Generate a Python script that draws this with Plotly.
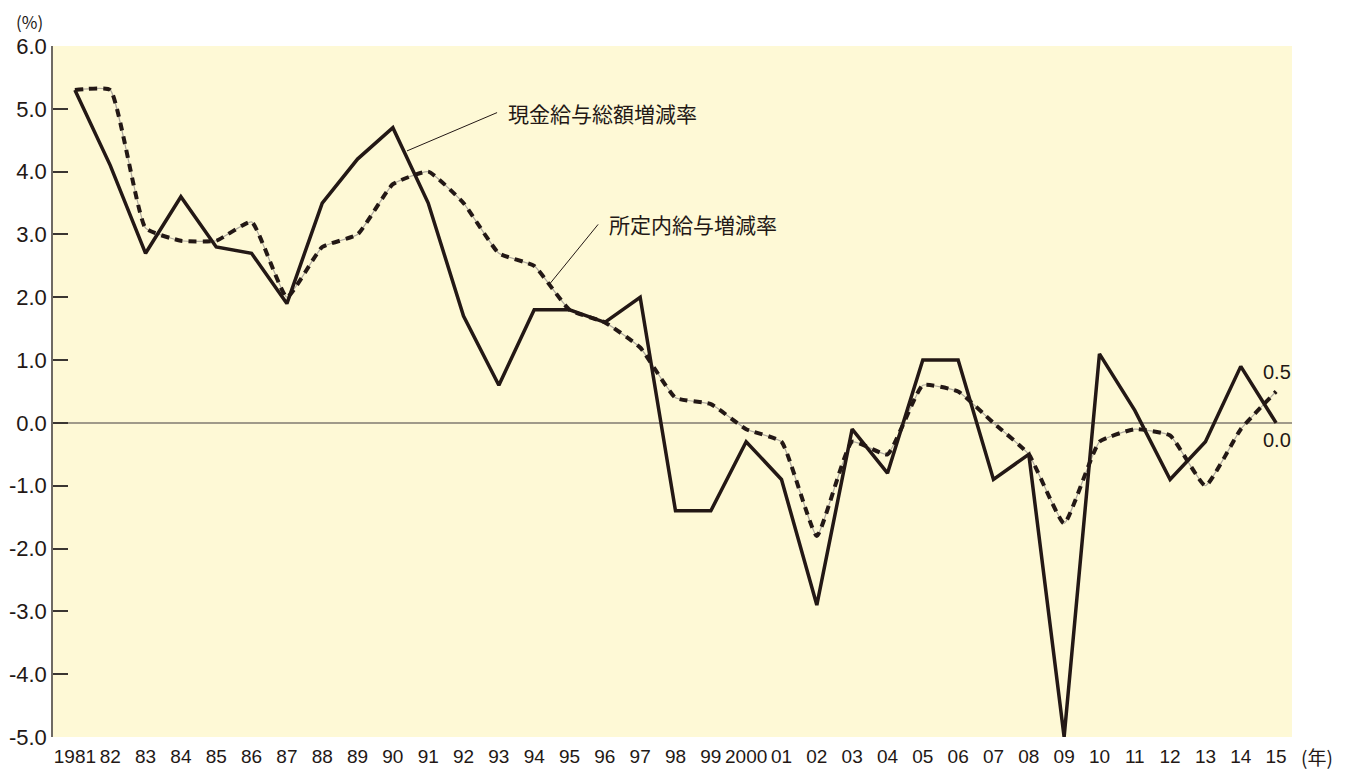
import plotly.graph_objects as go

years = list(range(1981, 2016))
tick_labels = ["1981", "82", "83", "84", "85", "86", "87", "88", "89", "90",
               "91", "92", "93", "94", "95", "96", "97", "98", "99", "2000",
               "01", "02", "03", "04", "05", "06", "07", "08", "09", "10",
               "11", "12", "13", "14", "15"]

total_cash = [5.3, 4.1, 2.7, 3.6, 2.8, 2.7, 1.9, 3.5, 4.2, 4.7,
              3.5, 1.7, 0.6, 1.8, 1.8, 1.6, 2.0, -1.4, -1.4, -0.3,
              -0.9, -2.9, -0.1, -0.8, 1.0, 1.0, -0.9, -0.5, -5.0, 1.1,
              0.2, -0.9, -0.3, 0.9, 0.0]

scheduled = [5.3, 5.3, 3.1, 2.9, 2.9, 3.2, 2.0, 2.8, 3.0, 3.8,
             4.0, 3.5, 2.7, 2.5, 1.8, 1.6, 1.2, 0.4, 0.3, -0.1,
             -0.3, -1.8, -0.3, -0.5, 0.6, 0.5, 0.0, -0.5, -1.6, -0.3,
             -0.1, -0.2, -1.0, -0.1, 0.5]

y_ticks = [6, 5, 4, 3, 2, 1, 0, -1, -2, -3, -4, -5]
y_tick_text = ["6.0", "5.0", "4.0", "3.0", "2.0", "1.0", "0.0",
               "-1.0", "-2.0", "-3.0", "-4.0", "-5.0"]

x_idx = list(range(len(years)))
INK = "#231815"

fig = go.Figure()

# dash-dot line: thin grey underlay + black dashes
fig.add_trace(go.Scatter(x=x_idx, y=scheduled, mode="lines",
                         line=dict(color="#b0ab9f", width=1.2, shape="spline", smoothing=0.4),
                         hoverinfo="skip", showlegend=False))
fig.add_trace(go.Scatter(x=x_idx, y=scheduled, mode="lines",
                         line=dict(color=INK, width=4, shape="spline", smoothing=0.4,
                                   dash="8px,6px"),
                         name="所定内給与増減率", showlegend=False))
fig.add_trace(go.Scatter(x=x_idx, y=total_cash, mode="lines",
                         line=dict(color=INK, width=3.5),
                         name="現金給与総額増減率", showlegend=False))

fig.add_shape(type="line", xref="paper", yref="y", x0=0, x1=1, y0=0, y1=0,
              line=dict(color="#807a70", width=1.5), layer="below")

# leader lines
fig.add_shape(type="line", x0=9.40, y0=4.33, x1=11.95, y1=4.94,
              line=dict(color=INK, width=1))
fig.add_shape(type="line", x0=13.45, y0=2.22, x1=14.81, y1=3.16,
              line=dict(color=INK, width=1))

cjk = "Noto Sans CJK JP"
fig.add_annotation(x=12.2, y=4.94, text="現金給与総額増減率", showarrow=False,
                   xanchor="left", yanchor="middle",
                   font=dict(family=cjk, size=21, color=INK))
fig.add_annotation(x=15.06, y=3.16, text="所定内給与増減率", showarrow=False,
                   xanchor="left", yanchor="middle",
                   font=dict(family=cjk, size=21, color=INK))

last = len(years) - 1
fig.add_annotation(x=last, y=scheduled[-1], text=f"{scheduled[-1]:.1f}", showarrow=False,
                   xanchor="center", yanchor="middle", yshift=20, xshift=1,
                   font=dict(family="Liberation Sans, Arial", size=20, color=INK))
fig.add_annotation(x=last, y=total_cash[-1], text=f"{total_cash[-1]:.1f}", showarrow=False,
                   xanchor="center", yanchor="middle", yshift=-17, xshift=1,
                   font=dict(family="Liberation Sans, Arial", size=20, color=INK))

fig.add_annotation(xref="paper", yref="paper", x=-0.0186, y=1.036, text="(%)",
                   showarrow=False, xanchor="center", yanchor="middle",
                   font=dict(family=cjk, size=17, color=INK))
fig.add_annotation(xref="paper", yref="paper", x=1.0205, y=-0.028, text="(年)",
                   showarrow=False, xanchor="center", yanchor="middle",
                   font=dict(family=cjk, size=19, color=INK))

fig.update_layout(
    width=1341, height=766,
    margin=dict(l=45, r=57, t=38, b=37, autoexpand=False),
    paper_bgcolor="white",
    plot_bgcolor="#fef9d6",
    showlegend=False,
    xaxis=dict(range=[-0.62, 34.45], tickmode="array", tickvals=x_idx,
               ticktext=tick_labels, showgrid=False, zeroline=False,
               showline=False, ticks="", ticklabelstandoff=6, tickangle=0,
               automargin=False,
               tickfont=dict(family="Liberation Sans Narrow, Liberation Sans", size=19, color=INK)),
    yaxis=dict(range=[-5, 6], tickmode="array", tickvals=y_ticks,
               ticktext=y_tick_text, showgrid=False, zeroline=False,
               showline=True, linecolor="#6e6a64", linewidth=1.5, automargin=False,
               ticks="inside", ticklen=15, tickwidth=1.5, tickcolor="#3a3632",
               tickfont=dict(family="Liberation Sans, Arial", size=22, color=INK)),
)

fig.write_html("out.html")
